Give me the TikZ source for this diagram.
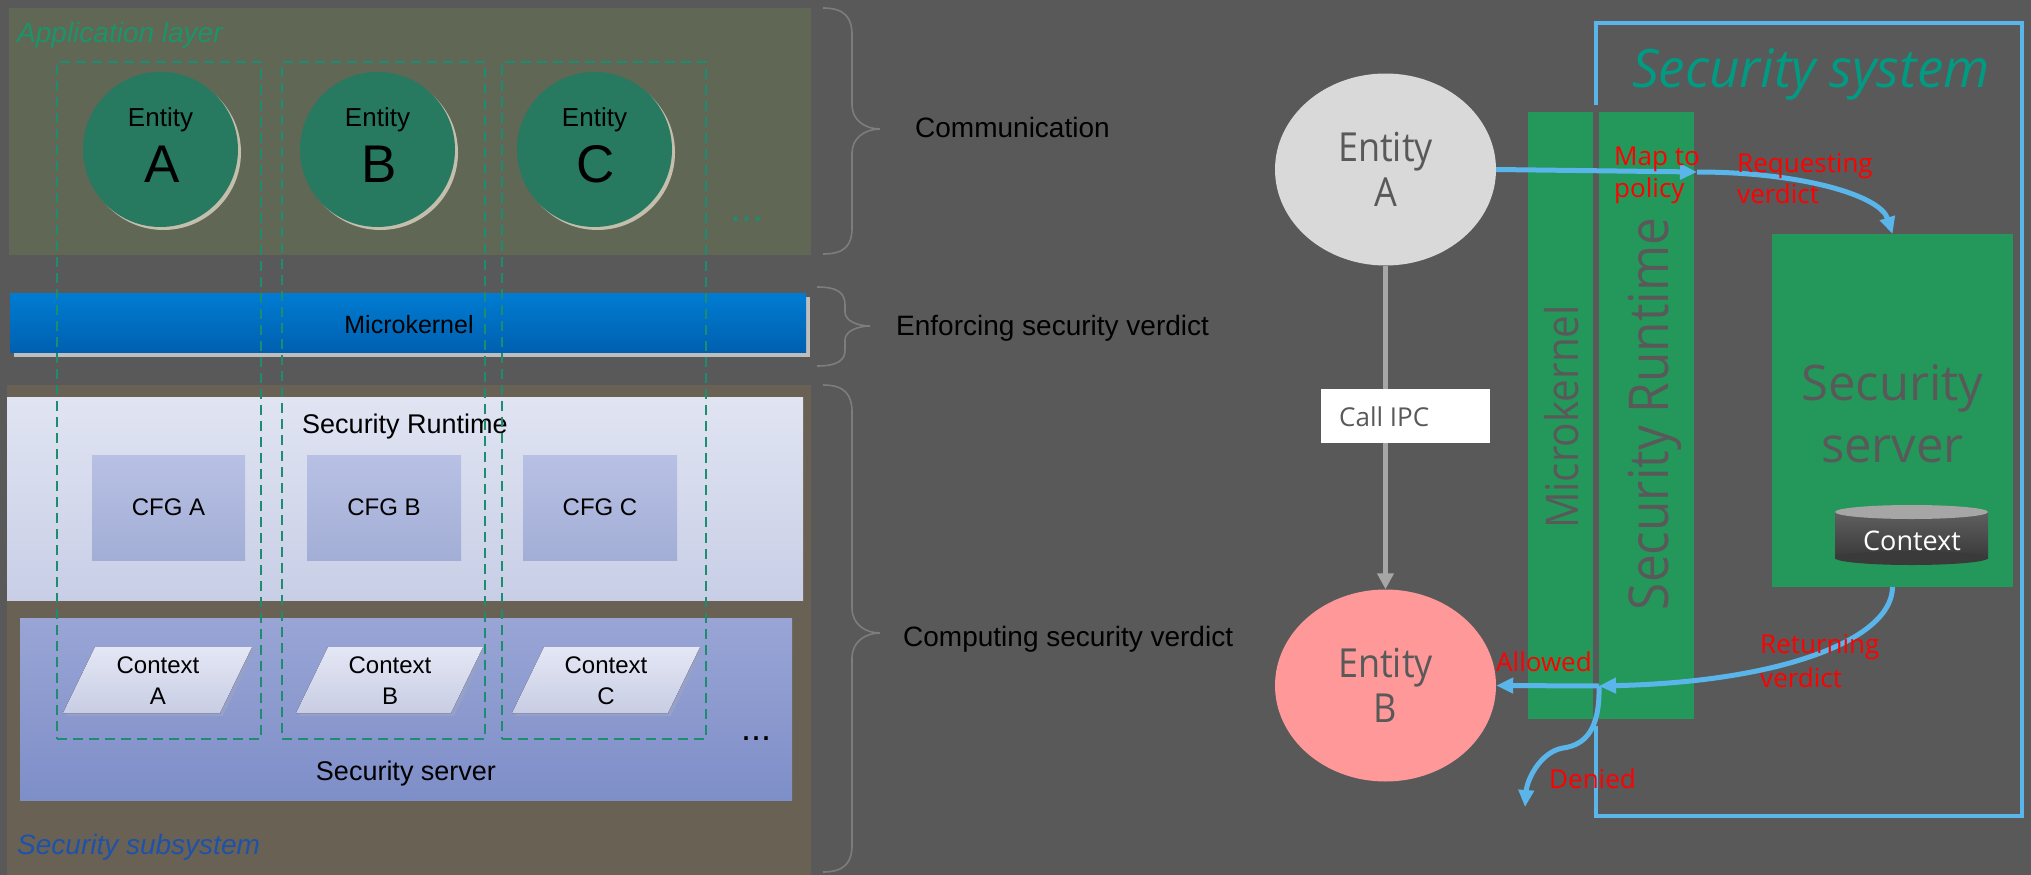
\documentclass[tikz,border=0pt]{standalone}
\usepackage{fontspec}
\setmainfont{Liberation Sans}
\newfontfamily\osf{Open Sans}
\newfontfamily\osn[FakeStretch=0.9]{Open Sans}
\usetikzlibrary{shapes.geometric,arrows.meta}
\newcommand\fsz[2]{\fontsize{#1}{#2}\selectfont}
\definecolor{bg}{RGB}{89,89,89}
\definecolor{appc}{RGB}{96,103,84}
\definecolor{subc}{RGB}{105,97,83}
\definecolor{circG}{RGB}{39,121,96}
\definecolor{circSh}{RGB}{196,190,172}
\definecolor{dashc}{RGB}{30,140,110}
\definecolor{appTxt}{RGB}{28,148,106}
\definecolor{subTxt}{RGB}{30,82,170}
\definecolor{braceC}{RGB}{125,125,125}
\definecolor{mktop}{RGB}{0,124,210}
\definecolor{mkbot}{RGB}{0,96,176}
\definecolor{mkshadow}{RGB}{190,190,190}
\definecolor{rttop}{RGB}{224,228,242}
\definecolor{rtbot}{RGB}{200,206,230}
\definecolor{cfgtop}{RGB}{184,193,228}
\definecolor{cfgbot}{RGB}{163,174,214}
\definecolor{svtop}{RGB}{153,165,213}
\definecolor{svbot}{RGB}{126,142,200}
\definecolor{pgtop}{RGB}{228,231,244}
\definecolor{pgbot}{RGB}{200,205,228}
\definecolor{pgsh}{RGB}{150,160,200}
\definecolor{rgreen}{RGB}{36,152,90}
\definecolor{bluec}{RGB}{90,182,234}
\definecolor{teal2}{RGB}{0,155,130}
\definecolor{entA}{RGB}{217,217,217}
\definecolor{entB}{RGB}{255,153,153}
\definecolor{arrgray}{RGB}{166,166,166}
\definecolor{txtgray}{RGB}{89,89,89}
\definecolor{cyltop}{RGB}{95,95,95}
\definecolor{cylbot}{RGB}{58,58,58}
\definecolor{cyllid}{RGB}{166,166,166}
\begin{document}
\begin{tikzpicture}[x=1pt,y=-1pt,
  blk/.style={inner sep=0pt, outer sep=0pt, anchor=north west, draw=none},
  dashbox/.style={draw=dashc, line width=2pt, dash pattern=on 10pt off 6pt, fill=none},
  ltxt/.style={inner sep=0pt, text=black, font=\fsz{26}{30}},
  bracestyle/.style={draw=braceC, line width=1.6pt},
  btxt/.style={inner sep=0pt, anchor=base west, text=black, font=\fsz{28}{32}},
  lcirc/.style={ellipse, minimum width=155pt, minimum height=155pt, inner sep=0pt, fill=circG},
  lshad/.style={ellipse, minimum width=155pt, minimum height=155pt, inner sep=0pt, fill=circSh},
  redl/.style={inner sep=0pt, anchor=base west, text=red, font=\osf\fsz{26}{32}},
  barrow/.style={draw=bluec, line width=5pt, -{Triangle[length=17pt,width=15pt]}},
  grayarrow/.style={draw=arrgray, line width=5pt, -{Triangle[length=16pt,width=16pt]}},
  ent/.style={ellipse, minimum width=221pt, minimum height=192pt, inner sep=0pt, text=txtgray, font=\osn\fsz{40}{45}, align=center}
]
\useasboundingbox (0,0) rectangle (2031,875);
\fill[bg] (0,0) rectangle (2031,875);

% ---------------- left panel ----------------
\node[blk, fill=appc, minimum width=802pt, minimum height=247pt] (app) at (9,8) {};
\node[blk, fill=subc, minimum width=804pt, minimum height=490pt] (sub) at (7,385) {};

\fill[mkshadow] (14,297) rectangle (810,357);
\node[blk, top color=mktop, bottom color=mkbot, minimum width=796pt, minimum height=59pt] (mk) at (10,293) {};
\node[ltxt, anchor=base, font=\fsz{25}{30}] (mkL) at (409,333) {Microkernel};

\node[blk, top color=rttop, bottom color=rtbot, minimum width=796pt, minimum height=203pt] (rt) at (7,397) {};
\node[ltxt, anchor=base, font=\fsz{27}{30}] (rtL) at (405,433) {Security Runtime};

\node[blk, top color=cfgtop, bottom color=cfgbot, minimum width=153pt, minimum height=105pt] (cfgA) at (92,455) {};
\node[blk, top color=cfgtop, bottom color=cfgbot, minimum width=154pt, minimum height=105pt] (cfgB) at (307,455) {};
\node[blk, top color=cfgtop, bottom color=cfgbot, minimum width=154pt, minimum height=105pt] (cfgC) at (523,455) {};
\node[ltxt, font=\fsz{24}{28}] (cfgAL) at (cfgA.center) {CFG A};
\node[ltxt, font=\fsz{24}{28}] (cfgBL) at (cfgB.center) {CFG B};
\node[ltxt, font=\fsz{24}{28}] (cfgCL) at (cfgC.center) {CFG C};

\node[blk, top color=svtop, bottom color=svbot, minimum width=772pt, minimum height=182pt] (srvL) at (20,618) {};
\node[ltxt, anchor=base, font=\fsz{27}{30}] (srvLL) at (406,780) {Security server};

% context parallelograms
\fill[pgsh] (98,650) -- (255,650) -- (223,716) -- (66,716) -- cycle;
\fill[top color=pgtop, bottom color=pgbot] (95,647) -- (252,647) -- (220,713) -- (63,713) -- cycle;
\fill[pgsh] (331,650) -- (486,650) -- (454,716) -- (299,716) -- cycle;
\fill[top color=pgtop, bottom color=pgbot] (328,647) -- (483,647) -- (451,713) -- (296,713) -- cycle;
\fill[pgsh] (547,650) -- (703,650) -- (671,716) -- (515,716) -- cycle;
\fill[top color=pgtop, bottom color=pgbot] (544,647) -- (700,647) -- (668,713) -- (512,713) -- cycle;
\node[ltxt, anchor=base, font=\fsz{24}{28}] (cxA1) at (158,673) {Context};
\node[ltxt, anchor=base, font=\fsz{24}{28}] (cxA2) at (158,704) {A};
\node[ltxt, anchor=base, font=\fsz{24}{28}] (cxB1) at (390,673) {Context};
\node[ltxt, anchor=base, font=\fsz{24}{28}] (cxB2) at (390,704) {B};
\node[ltxt, anchor=base, font=\fsz{24}{28}] (cxC1) at (606,673) {Context};
\node[ltxt, anchor=base, font=\fsz{24}{28}] (cxC2) at (606,704) {C};

% entity circles
\node[lshad] (shA) at (163.5,152.5) {};
\node[lshad] (shB) at (380.5,152.5) {};
\node[lshad] (shC) at (597.5,152.5) {};
\node[lcirc] (cA) at (160.5,149.5) {};
\node[lcirc] (cB) at (377.5,149.5) {};
\node[lcirc] (cC) at (594.5,149.5) {};
\node[ltxt, anchor=base] (cAt) at (160.5,126) {Entity};
\node[ltxt, anchor=base] (cBt) at (377.5,126) {Entity};
\node[ltxt, anchor=base] (cCt) at (594.5,126) {Entity};
\node[ltxt, anchor=base, font=\fsz{53}{56}] (cAl) at (162,182) {A};
\node[ltxt, anchor=base, font=\fsz{53}{56}] (cBl) at (379,182) {B};
\node[ltxt, anchor=base, font=\fsz{53}{56}] (cCl) at (596,182) {C};

% dashed columns
\node[blk, dashbox, minimum width=204pt, minimum height=677pt] (colA) at (57,62) {};
\node[blk, dashbox, minimum width=203pt, minimum height=677pt] (colB) at (282,62) {};
\node[blk, dashbox, minimum width=204pt, minimum height=677pt] (colC) at (502,62) {};

\node[inner sep=0pt, anchor=base west, text=appTxt, font=\fsz{28}{32}\itshape] (appL) at (17,43) {Application layer};
\node[inner sep=0pt, anchor=base west, text=subTxt, font=\fsz{28}{32}\itshape] (subL) at (17,854) {Security subsystem};
\node[inner sep=0pt, anchor=base west, text=dashc, font=\fsz{40}{42}] (dots1) at (730,221) {...};
\node[inner sep=0pt, anchor=base west, text=black, font=\fsz{36}{40}] (dots2) at (741,740) {...};

% braces
\draw[bracestyle] (823,8) .. controls (845,8) and (852,18) .. (852,35) -- (852,105)
  .. controls (852,120) and (865,129) .. (880,129) .. controls (865,129) and (852,138) .. (852,153)
  -- (852,228) .. controls (852,245) and (845,254) .. (823,254);
\draw[bracestyle] (817,287) .. controls (838,287) and (845,293) .. (845,305) -- (845,312)
  .. controls (845,321) and (858,326) .. (870,326) .. controls (858,326) and (845,331) .. (845,340)
  -- (845,350) .. controls (845,360) and (838,366) .. (817,366);
\draw[bracestyle] (823,385) .. controls (845,385) and (852,395) .. (852,412) -- (852,608)
  .. controls (852,624) and (865,633) .. (880,633) .. controls (865,633) and (852,642) .. (852,658)
  -- (852,845) .. controls (852,862) and (845,872) .. (823,872);
\node[btxt] (b1) at (915,137) {Communication};
\node[btxt] (b2) at (896,335) {Enforcing security verdict};
\node[btxt] (b3) at (903,646) {Computing security verdict};

% ---------------- right panel ----------------
\draw[draw=bluec, line width=4pt] (1596,105) -- (1596,23) -- (2022,23) -- (2022,816) -- (1596,816) -- (1596,726);
\node[inner sep=0pt, anchor=base west, text=teal2, font=\osf\itshape\fsz{53}{60}] (sst) at (1632,88) {Security system};

\node[blk, fill=rgreen, minimum width=65pt, minimum height=607pt] (mkR) at (1528,112) {};
\node[blk, fill=rgreen, minimum width=95pt, minimum height=607pt] (rtR) at (1599,112) {};
\node[rotate=90, anchor=base, inner sep=0pt, text=txtgray, font=\osn\fsz{45}{50}] (mkRt) at (1578,417) {Microkernel};
\node[rotate=90, anchor=base, inner sep=0pt, text=txtgray, font=\osn\fsz{55}{60}] (rtRt) at (1668,414) {Security Runtime};

\node[blk, fill=rgreen, minimum width=241pt, minimum height=353pt] (srv) at (1772,234) {};
\node[inner sep=0pt, anchor=base, text=txtgray, font=\osf\fsz{49}{62}] (srvT1) at (1892.5,400) {Security};
\node[inner sep=0pt, anchor=base, text=txtgray, font=\osf\fsz{49}{62}] (srvT2) at (1892.5,462) {server};

\fill[top color=cyltop, bottom color=cylbot] (1835,512) rectangle (1988,558);
\fill[cylbot] (1911.5,558) ellipse [x radius=76.5pt, y radius=7pt];
\fill[cyllid] (1911.5,512) ellipse [x radius=76.5pt, y radius=7pt];
\node[inner sep=0pt, anchor=base, text=white, font=\osf\fsz{27}{30}] (ctx) at (1912,550) {Context};

\node[ent, fill=entA] (eA) at (1385.5,169.5) {Entity\\A};
\node[ent, fill=entB] (eB) at (1385.5,685.5) {Entity\\B};

\draw[grayarrow] (eA.south) -- (eB.north);
\node[blk, fill=white, minimum width=169pt, minimum height=54pt] (ipc) at (1321,389) {};
\node[inner sep=0pt, anchor=base west, text=txtgray, font=\osf\fsz{26}{30}] (ipcT) at (1339,426) {Call IPC};

\coordinate (rtIn) at (1697,172);
\coordinate (split) at (1599,686);
\coordinate (deny) at (1525,807);
\draw[barrow] (eA.east) -- (rtIn);
\draw[barrow] (rtIn) .. controls (1800,172) and (1880,195) .. (srv.north);
\draw[barrow] (srv.south) .. controls (1892,640) and (1780,682) .. (split);
\draw[barrow] (split) -- (eB.east);
\draw[barrow] (split) .. controls (1600,730) and (1585,745) .. (1563,748) .. controls (1540,752) and (1527,780) .. (deny);

\node[redl] (mp1) at (1614,165) {Map to};
\node[redl] (mp2) at (1614,197) {policy};
\node[redl] (rq1) at (1737,172) {Requesting};
\node[redl] (rq2) at (1737,203) {verdict};
\node[redl] (rv1) at (1760,653) {Returning};
\node[redl] (rv2) at (1760,687) {verdict};
\node[redl] (al) at (1496,671) {Allowed};
\node[redl] (dn) at (1549,788) {Denied};
\end{tikzpicture}
\end{document}
